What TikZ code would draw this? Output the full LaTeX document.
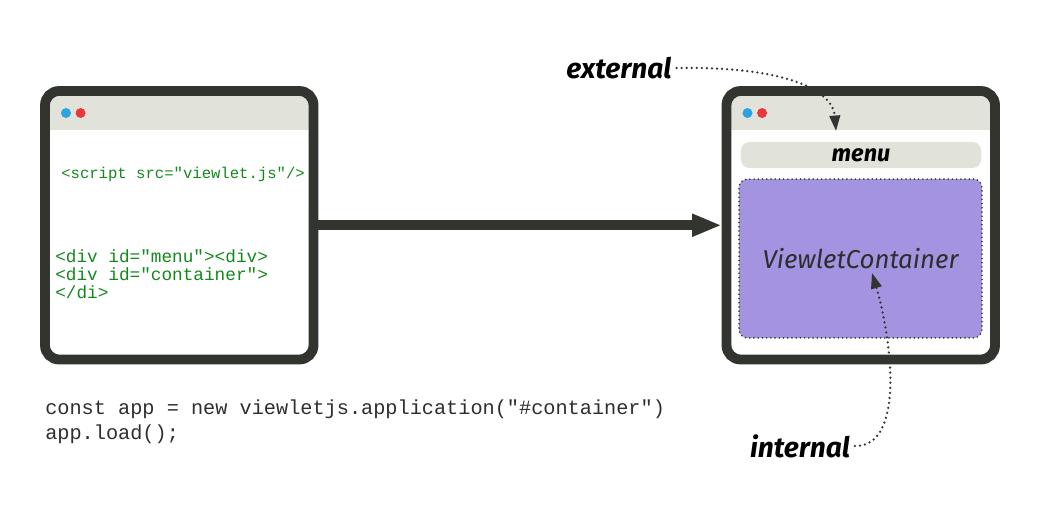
\documentclass[tikz,border=0pt]{standalone}
\usepackage{fontspec}
\setmonofont{Liberation Mono}
\newfontfamily\handfont{Fira Sans}
\usetikzlibrary{arrows.meta,calc,positioning}
\pgfdeclarelayer{background}
\pgfsetlayers{background,main}

\definecolor{framegray}{HTML}{32352F}
\definecolor{barfill}{HTML}{E1E3DA}
\definecolor{dotblue}{HTML}{2BA3E0}
\definecolor{dotred}{HTML}{E8383D}
\definecolor{boxpurple}{HTML}{A393E0}
\definecolor{codegreen}{HTML}{12891A}
\definecolor{codegray}{HTML}{2E2E2E}

\tikzset{
  window/.style={draw=framegray, line width=7pt, rounded corners=10pt,
    minimum width=6.71cm, minimum height=6.71cm, outer sep=0pt},
  windot/.style={circle, inner sep=0pt, minimum size=0.25cm},
  handlabel/.style={font=\handfont\itshape\bfseries\fontsize{20}{23}\selectfont},
  calloutline/.style={draw=framegray, line width=1.8pt, line cap=round,
    dash pattern=on 0pt off 3.6pt, -{Triangle[length=11pt,width=7.5pt]}},
  mainarrow/.style={draw=framegray, line width=7pt,
    -{Triangle[length=21pt,width=15pt]}}
}

\begin{document}
\begin{tikzpicture}[x=0.025cm, y=-0.025cm]
    \useasboundingbox (0,0) rectangle (1040,520);

    % browser windows
    \node[window] (leftwin) at (179.25,225.25) {};
    \node[window] (rightwin) at (860.75,225.25) {};

    % title bars
    \begin{pgfonlayer}{background}
    \foreach \win in {leftwin,rightwin} {
        \begin{scope}
            \clip[rounded corners=10pt] (\win.north west) rectangle (\win.south east);
            \fill[barfill] (\win.north west) rectangle ($(\win.north east)+(0,39)$);
        \end{scope}
    }
    \end{pgfonlayer}
    \foreach \win in {leftwin,rightwin} {
        \node[windot, fill=dotblue] (\win-blue) at ($(\win.north west)+(21,22)$) {};
        \node[windot, fill=dotred, right=0.1cm of \win-blue] (\win-red) {};
    }

    % page source
    \node[anchor=west, inner sep=0pt, text=codegreen, font=\ttfamily\fontsize{11.1}{13}\selectfont]
        (scripttag) at (61,174) {<script src="viewlet.js"/>};
    \node[anchor=west, align=left, inner sep=0pt, text=codegreen,
        font=\ttfamily\fontsize{12.6}{12.8}\selectfont]
        (divtags) at (55,274) {<div id="menu"><div>\\<div id="container">\\</di>};

    \node[anchor=west, align=left, inner sep=0pt, text=codegray,
        font=\ttfamily\fontsize{14.4}{17.8}\selectfont]
        (appcode) at (45,421.5) {const app = new viewletjs.application("\#container")\\app.load();};

    % rendered page
    \node[fill=barfill, rounded corners=6pt, minimum width=6cm, minimum height=0.65cm,
        font=\handfont\itshape\bfseries\fontsize{16.7}{19}\selectfont]
        (menu) at (861,155) {menu};
    \node[fill=boxpurple, draw=framegray, line width=1.3pt,
        dash pattern=on 0pt off 3pt, line cap=round, rounded corners=6pt,
        minimum width=6.07cm, minimum height=3.97cm, text=codegray,
        font=\handfont\itshape\fontsize{18.4}{21}\selectfont]
        (container) at (860.5,258.5) {ViewletContainer};

    \draw[mainarrow, shorten >=3.5pt] (leftwin.east) -- (rightwin.west);

    % callouts
    \node[handlabel] (extlabel) at (619,68) {external};
    \node[handlabel] (intlabel) at (800,446) {internal};
    \coordinate (extend) at (836,131);
    \coordinate (intend) at (872,273);

    \draw[calloutline] (extlabel.east) .. controls (790,66) and (833,92) .. (extend);
    \draw[calloutline] (intlabel.east) .. controls (905,447) and (892,340) .. (intend);
\end{tikzpicture}
\end{document}
